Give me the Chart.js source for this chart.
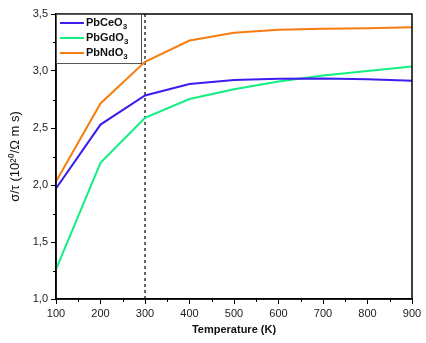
<!DOCTYPE html>
<html>
<head>
<meta charset="utf-8">
<script src="https://cdn.jsdelivr.net/npm/chart.js@4"></script>
<style>
  html, body { margin: 0; padding: 0; background: #fff; }
  #wrap { width: 426px; height: 343px; }
</style>
</head>
<body>
<div id="wrap"><canvas id="chart" width="426" height="343"></canvas></div>
<script>
// values
const temps = [100, 200, 300, 400, 500, 600, 700, 800, 900];
const ceO3 = [1.97, 2.53, 2.785, 2.885, 2.92, 2.932, 2.935, 2.928, 2.914];
const gdO3 = [1.26, 2.195, 2.59, 2.754, 2.84, 2.908, 2.96, 3.0, 3.04];
const ndO3 = [2.03, 2.715, 3.08, 3.267, 3.335, 3.362, 3.37, 3.376, 3.384];
const seriesNames = ["PbCeO₃", "PbGdO₃", "PbNdO₃"];
const markerT = 300;
const yTicks = [1.0, 1.5, 2.0, 2.5, 3.0, 3.5];

const colors = ["#3d1cf0", "#12ef80", "#f67d10"];

function pts(vals) {
  return temps.map((t, i) => ({ x: t, y: vals[i] }));
}

// draw text where ₀-₉ are subscripts
function drawRich(ctx, text, x, y, size) {
  const subs = "₀₁₂₃₄₅₆₇₈₉";
  let cx = x;
  for (const ch of text) {
    const k = subs.indexOf(ch);
    if (k >= 0) {
      ctx.font = "bold " + Math.round(size * 0.7) + "px Arial, 'Liberation Sans'";
      ctx.fillText(String(k), cx, y + size * 0.3);
      cx += ctx.measureText(String(k)).width;
    } else {
      ctx.font = "bold " + size + "px Arial, 'Liberation Sans'";
      ctx.fillText(ch, cx, y);
      cx += ctx.measureText(ch).width;
    }
  }
}

const decor = {
  id: "decor",
  afterDraw(chart) {
    const ctx = chart.ctx;
    const a = chart.chartArea;
    const xs = chart.scales.x, ys = chart.scales.y;
    ctx.save();
    ctx.strokeStyle = "#000";
    ctx.lineWidth = 1.5;
    // frame
    ctx.strokeRect(a.left, a.top, a.right - a.left, a.bottom - a.top);
    // minor ticks
    ctx.lineWidth = 1;
    ctx.beginPath();
    for (let t = 150; t < 900; t += 100) {
      const px = Math.round(xs.getPixelForValue(t)) + 0.5;
      ctx.moveTo(px, a.bottom);
      ctx.lineTo(px, a.bottom + 3);
    }
    for (let v = 1.25; v < 3.5; v += 0.5) {
      const py = Math.round(ys.getPixelForValue(v)) + 0.5;
      ctx.moveTo(a.left, py);
      ctx.lineTo(a.left - 3, py);
    }
    ctx.stroke();

    // legend box
    const lx = a.left, ly = a.top, lw = 85, lh = 49;
    ctx.fillStyle = "#fff";
    ctx.fillRect(lx, ly, lw, lh);
    ctx.strokeStyle = "#555";
    ctx.lineWidth = 1;
    ctx.strokeRect(lx + 0.5, ly + 0.5, lw, lh);
    seriesNames.forEach((name, i) => {
      const yy = ly + 9 + i * 15;
      ctx.strokeStyle = colors[i];
      ctx.lineWidth = 2;
      ctx.beginPath();
      ctx.moveTo(lx + 4, yy);
      ctx.lineTo(lx + 28, yy);
      ctx.stroke();
      ctx.fillStyle = "#111";
      ctx.textBaseline = "middle";
      drawRich(ctx, name, lx + 30, yy, 11);
    });
    ctx.restore();
  }
};

new Chart(document.getElementById("chart"), {
  type: "line",
  data: {
    datasets: [
      { label: seriesNames[0], data: pts(ceO3), borderColor: colors[0], borderWidth: 2, pointRadius: 0, tension: 0 },
      { label: seriesNames[1], data: pts(gdO3), borderColor: colors[1], borderWidth: 2, pointRadius: 0, tension: 0 },
      { label: seriesNames[2], data: pts(ndO3), borderColor: colors[2], borderWidth: 2, pointRadius: 0, tension: 0 },
      { label: "ref", data: [{ x: markerT, y: yTicks[0] }, { x: markerT, y: yTicks[yTicks.length - 1] }],
        borderColor: "#000", borderWidth: 1.2, borderDash: [3, 3], pointRadius: 0 }
    ]
  },
  options: {
    responsive: false,
    animation: false,
    layout: { padding: { left: 0, right: 14, top: 14, bottom: 0 } },
    plugins: { legend: { display: false }, tooltip: { enabled: false } },
    scales: {
      x: {
        type: "linear",
        min: 100, max: 900,
        afterFit: s => { s.height = 44; },
        ticks: { stepSize: 100, color: "#222", font: { family: "Arial, 'Liberation Sans'", size: 11 }, padding: 3, maxRotation: 0 },
        grid: { display: true, drawOnChartArea: false, drawTicks: true, tickLength: 5, color: "#000", lineWidth: 1 },
        border: { display: true, color: "#000", width: 1.5 },
        title: { display: true, text: "Temperature (K)", color: "#111", font: { family: "Arial, 'Liberation Sans'", size: 11, weight: "bold" }, padding: { top: 1, bottom: 6 } }
      },
      y: {
        min: 1, max: 3.5,
        afterFit: s => { s.width = 56; },
        ticks: {
          stepSize: 0.5, color: "#222", font: { family: "Arial, 'Liberation Sans'", size: 11 }, padding: 3,
          callback: v => v.toFixed(1).replace(".", ",")
        },
        grid: { display: true, drawOnChartArea: false, drawTicks: true, tickLength: 5, color: "#000", lineWidth: 1 },
        border: { display: true, color: "#000", width: 1.5 },
        title: { display: true, text: "σ/τ (10²⁰/Ω m s)", color: "#111", font: { family: "Arial, 'Liberation Sans'", size: 13 }, padding: { top: 8, bottom: 4 } }
      }
    }
  },
  plugins: [decor]
});
</script>
</body>
</html>
